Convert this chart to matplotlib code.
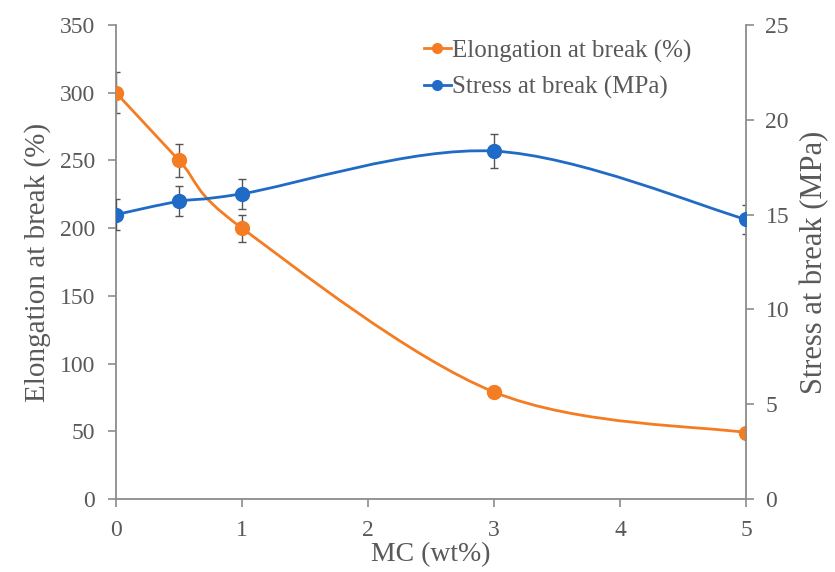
import numpy as np
import matplotlib
matplotlib.use('Agg')
import matplotlib.pyplot as plt
from matplotlib.path import Path
from matplotlib.patches import PathPatch
from matplotlib.lines import Line2D

# data
mc = [0, 0.5, 1, 3, 5]
elongation = [300, 250, 200, 79, 49]
elongation_err = [15, 12, 10, 0, 0]
stress = [15.0, 15.7, 16.1, 18.35, 14.75]
stress_err = [0.8, 0.8, 0.8, 0.9, 0.75]

orange = '#F47C22'
blue = '#1F6BC6'
text_gray = '#595959'
axis_gray = '#8C8C8C'

plt.rcParams['font.family'] = ['Liberation Serif', 'DejaVu Serif']


def smooth_path(x, y):
    # Excel-like smoothed line: cubic Bezier, control points from neighbours
    x = np.asarray(x, float)
    y = np.asarray(y, float)
    n = len(x)
    verts = [(x[0], y[0])]
    codes = [Path.MOVETO]
    for i in range(n - 1):
        p0 = i - 1 if i > 0 else i
        p3 = i + 2 if i + 2 < n else i + 1
        c1 = (x[i] + (x[i + 1] - x[p0]) / 6, y[i] + (y[i + 1] - y[p0]) / 6)
        c2 = (x[i + 1] - (x[p3] - x[i]) / 6, y[i + 1] - (y[p3] - y[i]) / 6)
        verts += [c1, c2, (x[i + 1], y[i + 1])]
        codes += [Path.CURVE4] * 3
    return Path(verts, codes)


fig = plt.figure(figsize=(8.35, 5.72), dpi=100)
ax = fig.add_axes([116 / 835, 1 - 499 / 572, 630 / 835, 474 / 572])
ax2 = ax.twinx()

# elongation (left axis)
ax.errorbar(mc, elongation, yerr=elongation_err, fmt='none', ecolor='#555555',
            elinewidth=1, capsize=3, capthick=1, zorder=2)
ax.add_patch(PathPatch(smooth_path(mc, elongation), fill=False, edgecolor=orange,
                       lw=2, zorder=3))
ax.plot(mc, elongation, 'o', color=orange, ms=10, zorder=4)

# stress (right axis)
ax2.errorbar(mc, stress, yerr=stress_err, fmt='none', ecolor='#555555',
             elinewidth=1, capsize=3, capthick=1, zorder=2)
ax2.add_patch(PathPatch(smooth_path(mc, stress), fill=False, edgecolor=blue,
                        lw=2, zorder=3))
ax2.plot(mc, stress, 'o', color=blue, ms=10, zorder=4)

ax.set_xlim(0, 5)
ax.set_ylim(0, 350)
ax2.set_ylim(0, 25)
ax.set_xticks(range(6))
ax.set_yticks(range(0, 351, 50))
ax2.set_yticks(range(0, 26, 5))

for a in (ax, ax2):
    for s in a.spines.values():
        s.set_visible(False)
ax.spines['left'].set_visible(True)
ax.spines['bottom'].set_visible(True)
ax2.spines['right'].set_visible(True)
for s in (ax.spines['left'], ax.spines['bottom'], ax2.spines['right']):
    s.set_color(axis_gray)
    s.set_linewidth(1.3)

ax.tick_params(axis='both', direction='out', length=6, width=1.2, color=axis_gray,
               labelcolor=text_gray, labelsize=17)
ax.tick_params(axis='y', pad=9)
ax.tick_params(axis='x', pad=9)
ax2.tick_params(axis='y', direction='out', length=6, width=1.2, color=axis_gray,
                labelcolor=text_gray, labelsize=17, pad=8)

ax.set_xlabel('MC (wt%)', fontsize=20, color=text_gray, labelpad=1)
ax.set_ylabel('Elongation at break (%)', fontsize=21, color=text_gray, labelpad=6)
ax2.set_ylabel('Stress at break (MPa)', fontsize=22, color=text_gray, labelpad=8)

handles = [
    Line2D([], [], color=orange, lw=2, marker='o', ms=7),
    Line2D([], [], color=blue, lw=2, marker='o', ms=7),
]
fig.legend(handles, ['Elongation at break (%)', 'Stress at break (MPa)'],
           loc='upper left', bbox_to_anchor=(411 / 835, 1 - 27 / 572),
           frameon=False, fontsize=18, labelcolor=text_gray, handlelength=1.1,
           handletextpad=0.05, labelspacing=0.55, borderpad=0)

fig.savefig('out.png', dpi=100)
